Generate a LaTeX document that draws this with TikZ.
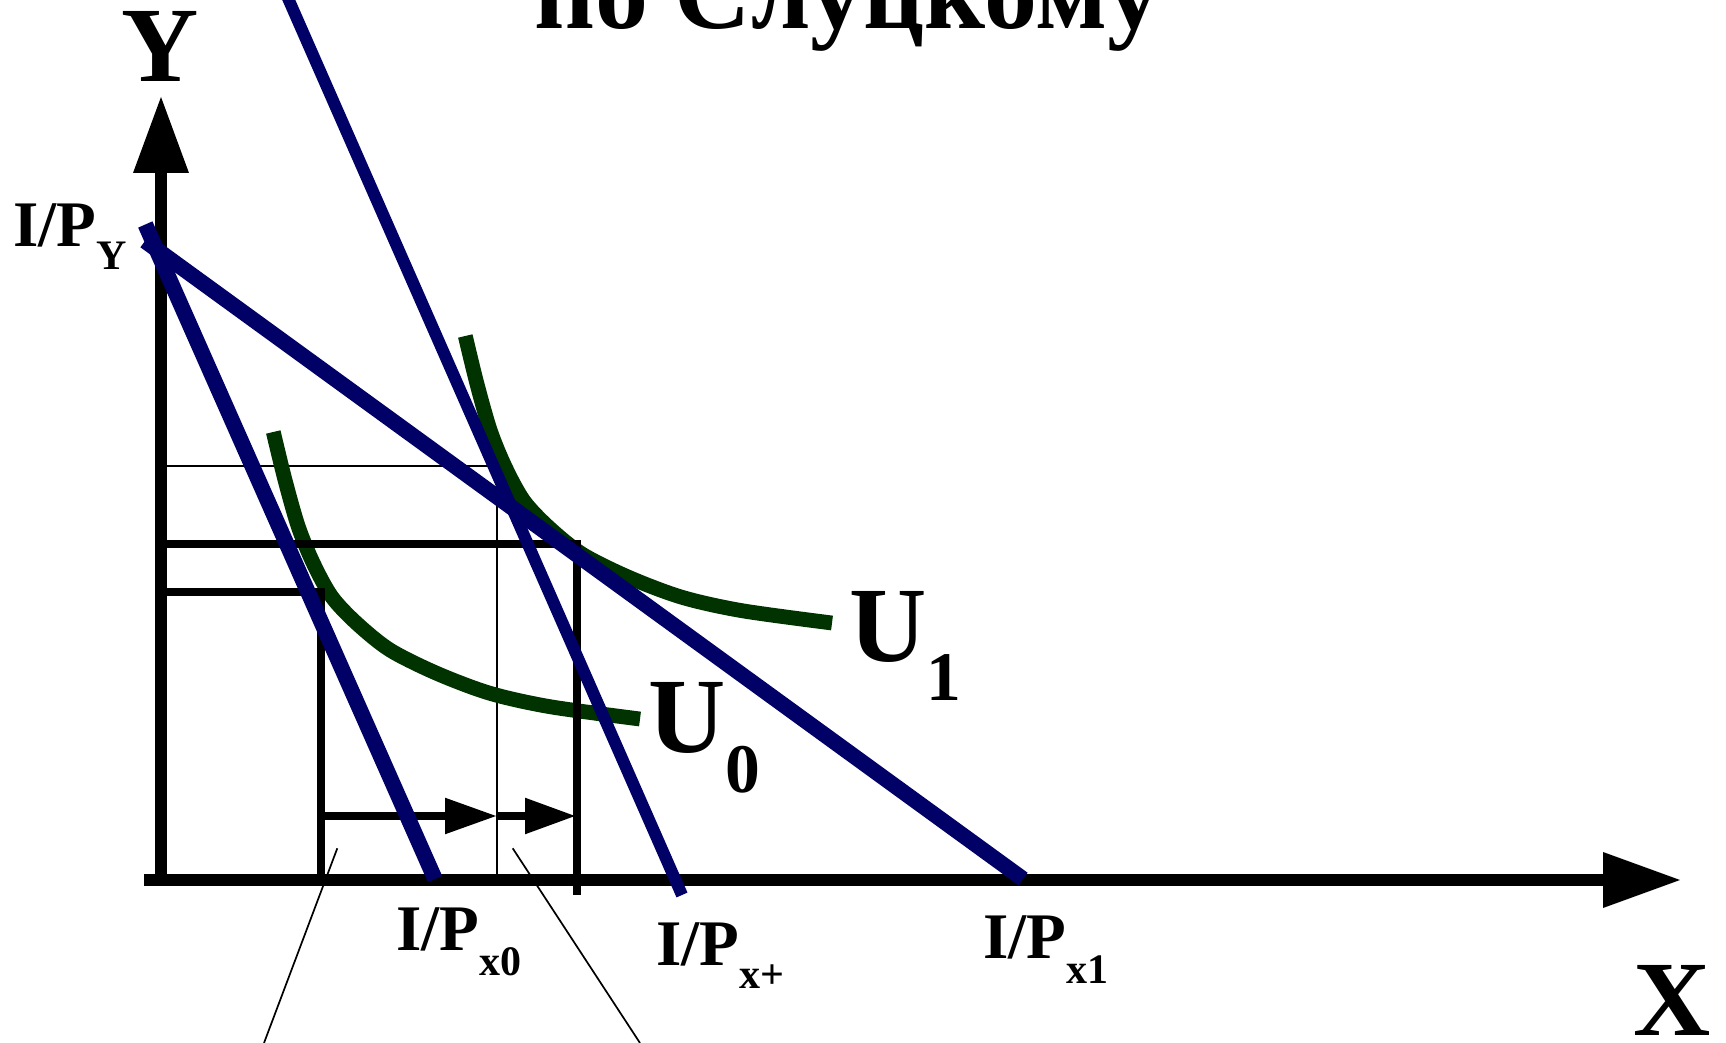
\documentclass[tikz,border=0pt]{standalone}
\usepackage{fontspec}
\setmainfont{Liberation Serif}
\definecolor{navy}{RGB}{0,0,102}
\definecolor{dgreen}{RGB}{0,51,0}
\newcommand{\fsz}[1]{\fontsize{#1}{#1}\selectfont}
\begin{document}
\begin{tikzpicture}[x=0.5pt,y=-0.5pt,
  axisline/.style={line width=5.75pt, black},
  budgetthick/.style={line width=7.8pt, navy},
  budgetmid/.style={line width=6pt, navy},
  indiff/.style={line width=7.4pt, dgreen},
  guide/.style={line width=3.65pt, black},
  thinline/.style={line width=0.85pt, black},
  lbl/.style={inner sep=0pt, outer sep=0pt, font=\bfseries},
]
\useasboundingbox (0,0) rectangle (1726,1043);
\clip (0,0) rectangle (1726,1043);

% key points
\coordinate (O) at (161,880);
\coordinate (Ybase) at (161,173);
\coordinate (Ytip) at (161,97);
\coordinate (Xstart) at (144,880);
\coordinate (Xbase) at (1603,880);
\coordinate (Xtip) at (1680,880);
\coordinate (A) at (145.3,224.5);
\coordinate (Ax0) at (435,879);
\coordinate (B) at (145,241);
\coordinate (Bx1) at (1023,879);
\coordinate (Ctop) at (280,-20);
\coordinate (Cxp) at (682,895);
\coordinate (E0) at (321,592);
\coordinate (E0y) at (161,592);
\coordinate (E0x) at (321,880);
\coordinate (E1) at (577,544);
\coordinate (E1y) at (161,544);
\coordinate (E1x) at (577,895);
\coordinate (Hy) at (161,466);
\coordinate (Hr) at (501,466);
\coordinate (Ht) at (497,481);
\coordinate (Hx) at (497,880);
\coordinate (R1s) at (321,816);
\coordinate (R1b) at (445,816);
\coordinate (R1t) at (496,816);
\coordinate (R2s) at (497,816);
\coordinate (R2b) at (525,816);
\coordinate (R2t) at (575,816);
\coordinate (K1a) at (337.3,848.3);
\coordinate (K1b) at (264,1043);
\coordinate (K2a) at (512.7,848.3);
\coordinate (K2b) at (640,1043);

% axes
\draw[axisline] (O) -- (Ybase);
\fill (Ytip) -- ([xshift=-14pt]Ybase) -- ([xshift=14pt]Ybase) -- cycle;
\draw[axisline] (Xstart) -- (Xbase);
\fill (Xtip) -- ([yshift=14pt]Xbase) -- ([yshift=-14pt]Xbase) -- cycle;

% thin guides
\draw[thinline] (Hy) -- (Hr);
\draw[thinline] (Ht) -- (Hx);
\draw[thinline] (K1a) -- (K1b);
\draw[thinline] (K2a) -- (K2b);

% indifference curves
\draw[indiff] plot[smooth, tension=0.5] coordinates {(273.3,432) (285,480) (298.3,526.7) (313.3,563.3) (331.7,596.7) (356.7,623.3) (390,650) (436.7,673.3) (490,693.3) (550,706.7) (640,719)};
\begin{scope}[shift={(192,-96)}]
\draw[indiff] plot[smooth, tension=0.5] coordinates {(273.3,432) (285,480) (298.3,526.7) (313.3,563.3) (331.7,596.7) (356.7,623.3) (390,650) (436.7,673.3) (490,693.3) (550,706.7) (640,719)};
\end{scope}

% optimum guides
\draw[guide] (E1y) -- (E1) -- (E1x);
\draw[guide] (E0y) -- (E0) -- (E0x);

% shift arrows
\draw[guide] (R1s) -- (R1b);
\fill (R1t) -- ([yshift=9.15pt]R1b) -- ([yshift=-9.15pt]R1b) -- cycle;
\draw[guide] (R2s) -- (R2b);
\fill (R2t) -- ([yshift=9.15pt]R2b) -- ([yshift=-9.15pt]R2b) -- cycle;

% budget lines
\draw[budgetthick] (B) -- (Bx1);
\draw[budgetmid] (Ctop) -- (Cxp);
\draw[budgetthick] (A) -- (Ax0);

% labels
\node[lbl, anchor=base west] (title) at (534,29) {\fsz{53pt}по Слуцкому};
\node[lbl, anchor=base] (ylab) at (160,82) {\fsz{53.5pt}Y};
\node[lbl, anchor=base] (xlab) at (1672,1035) {\fsz{53.5pt}X};
\node[lbl, anchor=base west] (ipy) at (13,247) {\fsz{32.5pt}I/P\raisebox{-11.5pt}{\fsz{21pt}Y}};
\node[lbl, anchor=base west] (ipx0) at (396,950) {\fsz{32.5pt}I/P\raisebox{-12.5pt}{\fsz{21pt}x0}};
\node[lbl, anchor=base west] (ipxp) at (656,965) {\fsz{32.5pt}I/P\raisebox{-11.5pt}{\fsz{21pt}x+}};
\node[lbl, anchor=base west] (ipx1) at (983,958) {\fsz{32.5pt}I/P\raisebox{-12.5pt}{\fsz{21pt}x1}};
\node[lbl, anchor=base west] (u0) at (648,752) {\fsz{53.5pt}U\raisebox{-20pt}{\fsz{34.8pt}0}};
\node[lbl, anchor=base west] (u1) at (849,661) {\fsz{53.5pt}U\raisebox{-20pt}{\fsz{34.8pt}1}};
\end{tikzpicture}
\end{document}
